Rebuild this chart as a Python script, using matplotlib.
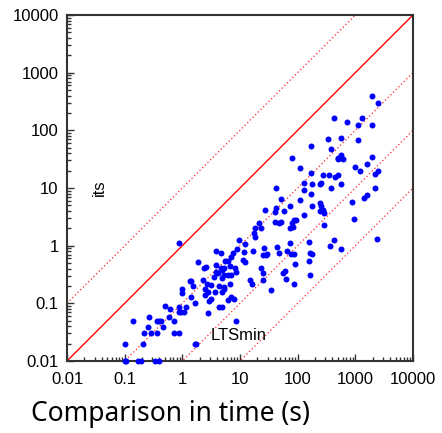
import numpy as np
import matplotlib
matplotlib.use('Agg')
import matplotlib.pyplot as plt

# time of the comparison tool (x) vs time of its (y), in seconds
t_ltsmin = [0.10, 0.107, 0.168, 0.189, 0.33, 0.39,
            0.10, 0.14, 0.21, 0.22, 0.25, 0.26, 0.29, 0.36, 0.39, 0.42,
            0.37, 0.46, 0.51, 0.58, 0.62, 0.73, 0.73, 0.86, 0.89, 0.89,
            0.96, 1.08, 0.97, 0.97, 1.17, 0.86, 1.68, 1.76, 1.37, 1.43,
            1.55, 1.43, 1.68, 1.9, 2.3, 2.35, 2.5, 2.5, 2.6, 2.8,
            2.8, 2.7, 2.9, 3.2, 3.2, 3.6, 3.7, 3.9, 3.9, 3.9,
            4.1, 4.3, 4.3, 4.8, 4.6, 4.6, 4.8, 4.8, 4.9, 5.2,
            5.2, 5.3, 5.3, 5.5, 6.3, 6.3, 6.3, 6.7, 6.7, 7.0,
            7.0, 7.0, 7.5, 8.0, 8.2, 8.6, 8.6, 8.9, 9.6, 11.3,
            11.7, 12, 12.3, 15, 16, 17.5, 17, 18, 18, 21,
            23, 23, 25, 25, 25, 28, 26, 27, 29, 34,
            40, 42, 40, 48, 52, 42, 44, 48, 52, 56,
            60, 63, 58, 66, 73, 73, 82, 73, 76, 79,
            79, 87, 93, 87, 87, 90, 108, 108, 127, 127,
            127, 155, 160, 165, 180, 162, 168, 168, 168, 175,
            175, 240, 250, 240, 250, 240, 290, 290, 270, 350,
            500, 330, 380, 500, 380, 450, 370, 420, 570, 420,
            560, 570, 510, 620, 570, 730, 890, 960, 1000, 1130,
            1220, 1100, 1400, 1330, 1620, 1620, 1950, 1970, 1970, 2200,
            2200, 2400, 2500, 2500, 270]
t_its = [0.01, 0.01, 0.01, 0.01, 0.01, 0.01,
         0.020, 0.049, 0.020, 0.030, 0.039, 0.058, 0.030, 0.049, 0.049, 0.049,
         0.030, 0.039, 0.090, 0.058, 0.079, 0.049, 0.030, 0.030, 0.086, 0.070,
         0.070, 0.070, 0.15, 0.18, 0.086, 1.13, 0.020, 0.020, 0.24, 0.24,
         0.20, 0.13, 0.10, 0.52, 0.25, 0.41, 0.18, 0.14, 0.43, 0.068,
         0.16, 0.22, 0.11, 0.21, 0.12, 0.29, 0.16, 0.80, 0.46, 0.35,
         0.33, 0.20, 0.086, 0.086, 0.75, 0.41, 0.38, 0.28, 0.16, 0.31,
         0.18, 0.41, 0.19, 0.54, 0.54, 0.31, 0.115, 0.44, 0.22, 0.63,
         0.31, 0.13, 0.75, 0.12, 0.41, 0.35, 0.049, 0.87, 1.26, 0.56,
         0.78, 1.07, 0.52, 0.25, 0.22, 1.66, 0.80, 2.0, 1.4, 2.5,
         2.0, 0.41, 0.33, 0.25, 0.69, 0.69, 0.91, 4.2, 0.72, 0.17,
         3.8, 4.5, 2.6, 2.5, 2.6, 9.8, 0.95, 0.75, 6.4, 0.33,
         0.36, 0.26, 4.0, 0.80, 4.9, 2.0, 2.1, 1.1, 0.72, 33,
         2.5, 2.8, 2.8, 0.72, 0.22, 0.48, 22, 6.1, 12, 9.2,
         3.4, 0.54, 1.15, 0.75, 0.72, 0.31, 53, 18, 7.8, 11.7,
         4.9, 11.7, 12, 5.6, 4.9, 4.0, 3.7, 2.3, 17, 17,
         17, 71, 47, 33, 9.8, 15.5, 0.98, 1.26, 0.87, 163,
         73, 37, 32, 32, 11.7, 139, 5.7, 2.9, 23, 68,
         20, 123, 6.7, 163, 26, 7.5, 35, 390, 123, 17.4,
         10, 1.3, 296, 20, 4.2]

ratios = [10, 1, 0.1, 0.01, 0.001]
ticks = [0.01, 0.1, 1, 10, 100, 1000, 10000]
tick_labels = ['0.01', '0.1', '1', '10', '100', '1000', '10000']

plt.rcParams['font.family'] = ['Liberation Sans', 'DejaVu Sans']

fig = plt.figure(figsize=(4.42, 4.33), dpi=100)
ax = fig.add_axes([0.1516, 0.1663, 0.7828, 0.7991])

xl = np.array([0.01, 10000])
for r in ratios:
    if r == 1:
        ax.plot(xl, xl * r, color='red', lw=1.0, zorder=1)
    else:
        ax.plot(xl, xl * r, color='#ff2020', lw=0.9, ls=(0, (1, 2)), zorder=1)

ax.plot(t_ltsmin, t_its, 'o', color='#0000ff', markersize=4.3,
        markeredgewidth=0, clip_on=False, zorder=3)

ax.set_xscale('log')
ax.set_yscale('log')
ax.set_xlim(0.01, 10000)
ax.set_ylim(0.01, 10000)
ax.set_xticks(ticks)
ax.set_xticklabels(tick_labels)
ax.set_yticks(ticks)
ax.set_yticklabels(tick_labels)
ax.tick_params(which='both', direction='in', top=False, right=False,
               labelsize=12, color='#333333')
ax.tick_params(which='major', length=5, width=1)
ax.tick_params(which='minor', length=3, width=1)
ax.tick_params(axis='x', pad=8)
ax.tick_params(axis='y', pad=6)
for s in ax.spines.values():
    s.set_color('#333333')
    s.set_linewidth(1.5)

ax.text(0.037, 10, 'its', rotation=90, fontsize=12, ha='center', va='center')
ax.text(9.3, 0.028, 'LTSmin', fontsize=12, ha='center', va='center')

fig.text(0.385, 0.045, 'Comparison in time (s)', family='Noto Sans',
         fontsize=19, ha='center', va='center')

fig.savefig('out.png', dpi=100)
